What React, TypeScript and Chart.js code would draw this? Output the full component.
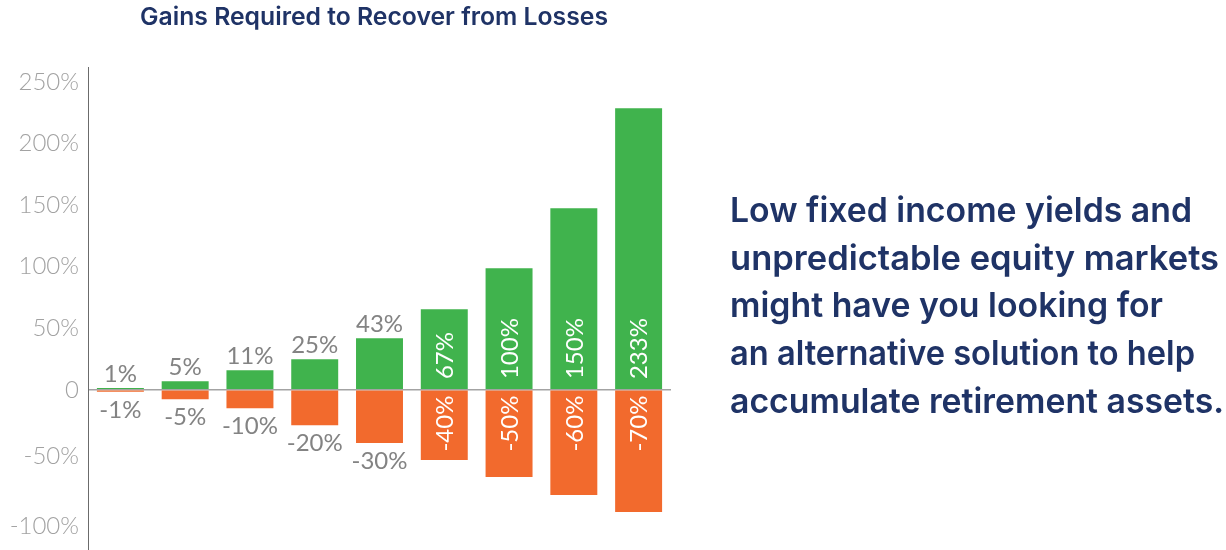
import React, { useEffect, useRef } from "react";
import { Chart, registerables } from "chart.js";

Chart.register(...registerables);

// ---- Data ----
const categories = ["1", "2", "3", "4", "5", "6", "7", "8", "9"];
// Bar heights as drawn on the picture's axis
const gainBars = [1.5, 6.9, 15.8, 24.8, 41.8, 65.3, 98.6, 147.3, 228.5];
const lossBars = [-1.5, -7.7, -15, -28.8, -43.2, -57, -70.8, -85.4, -99.2];
// Printed labels
const gainLabels = ["1%", "5%", "11%", "25%", "43%", "67%", "100%", "150%", "233%"];
const lossLabels = ["-1%", "-5%", "-10%", "-20%", "-30%", "-40%", "-50%", "-60%", "-70%"];
// Y axis ticks (the picture's axis is spaced unevenly below zero)
const tickValues = [250, 200, 150, 100, 50, 0, -54, -111];
const tickLabels = ["250%", "200%", "150%", "100%", "50%", "0", "-50%", "-100%"];

const title = "Gains Required to Recover from Losses";
const sideText = [
  "Low fixed income yields and",
  "unpredictable equity markets",
  "might have you looking for",
  "an alternative solution to help",
  "accumulate retirement assets.",
];

// layout: rendered widths of the side text lines in the reference
const sideWidths = [462, 489, 433, 465, 494];
const titleWidth = 468;

const GREEN = "#40b34d";
const ORANGE = "#f26a2d";
const NAVY = "#1f3366";

const barLabelPlugin = {
  id: "barLabels",
  afterDatasetsDraw(chart: any) {
    const ctx = chart.ctx;
    const labelSets = [gainLabels, lossLabels];
    ctx.save();
    ctx.font = "400 24px Lato";
    chart.data.datasets.forEach((ds: any, di: number) => {
      const meta = chart.getDatasetMeta(di);
      meta.data.forEach((bar: any, i: number) => {
        const text = labelSets[di][i];
        const w = ctx.measureText(text).width;
        const h = Math.abs(bar.base - bar.y);
        const positive = ds.data[i] >= 0;
        if (h > w + 12) {
          ctx.fillStyle = "#ffffff";
          ctx.save();
          if (positive) {
            ctx.translate(bar.x + 1, bar.base - 10);
            ctx.rotate(-Math.PI / 2);
            ctx.textAlign = "left";
          } else {
            ctx.translate(bar.x + 1, bar.base + 5);
            ctx.rotate(-Math.PI / 2);
            ctx.textAlign = "right";
          }
          ctx.textBaseline = "middle";
          ctx.fillText(text, 0, 0);
          ctx.restore();
        } else {
          ctx.fillStyle = "#838383";
          ctx.textAlign = "center";
          ctx.textBaseline = "alphabetic";
          if (positive) {
            ctx.fillText(text, bar.x, bar.y - 6);
          } else {
            ctx.fillText(text, bar.x, bar.y + 26);
          }
        }
      });
    });
    ctx.restore();
  },
};

export default function App() {
  const canvasRef = useRef<HTMLCanvasElement | null>(null);
  const lineRefs = useRef<(HTMLSpanElement | null)[]>([]);
  const titleRef = useRef<HTMLSpanElement | null>(null);

  useEffect(() => {
    const fit = () => {
      lineRefs.current.forEach((el, i) => {
        if (!el) return;
        el.style.transform = "none";
        const w = el.getBoundingClientRect().width;
        if (w > 0) el.style.transform = `scaleX(${sideWidths[i] / w})`;
      });
      const t = titleRef.current;
      if (t) {
        t.style.transform = "none";
        const w = t.getBoundingClientRect().width;
        if (w > 0) t.style.transform = `scaleX(${titleWidth / w})`;
      }
    };
    fit();
    if ((document as any).fonts && (document as any).fonts.ready) {
      (document as any).fonts.ready.then(fit);
    }
  }, []);

  useEffect(() => {
    if (!canvasRef.current) return;
    const chart = new Chart(canvasRef.current, {
      type: "bar",
      data: {
        labels: categories,
        datasets: [
          {
            label: "Gain required",
            data: gainBars,
            backgroundColor: GREEN,
            borderWidth: 0,
            barPercentage: 0.725,
            categoryPercentage: 1,
          },
          {
            label: "Loss",
            data: lossBars,
            backgroundColor: ORANGE,
            borderWidth: 0,
            barPercentage: 0.725,
            categoryPercentage: 1,
          },
        ],
      },
      options: {
        animation: false,
        responsive: false,
        maintainAspectRatio: false,
        devicePixelRatio: 1,
        layout: { padding: { top: 67, right: 555, bottom: 0, left: 0 } },
        plugins: {
          legend: { display: false },
          tooltip: { enabled: false },
          title: { display: false },
        },
        scales: {
          x: {
            stacked: true,
            display: false,
            offset: true,
            grid: { display: false },
          },
          y: {
            stacked: true,
            min: -130,
            max: 262,
            afterFit(scale: any) {
              scale.width = 88;
              scale.paddingTop = 0;
              scale.paddingBottom = 0;
            },
            afterBuildTicks(scale: any) {
              scale.ticks = tickValues.map((v) => ({ value: v }));
            },
            border: { display: true, color: "#6b6b6b", width: 1 },
            grid: {
              drawTicks: false,
              lineWidth: 1.5,
              color: (c: any) =>
                c.tick && c.tick.value === 0 ? "#a3a3a3" : "rgba(0,0,0,0)",
            },
            ticks: {
              padding: 9,
              color: "#a2a2a2",
              font: { family: "Lato", size: 24, weight: "300" as any },
              callback: (_v: any, idx: number) => tickLabels[idx],
            },
          },
        },
      },
      plugins: [barLabelPlugin],
    });
    return () => chart.destroy();
  }, []);

  return (
    <div
      style={{
        position: "absolute",
        left: 0,
        top: 0,
        width: 1226,
        height: 550,
        background: "#ffffff",
        overflow: "hidden",
      }}
    >
      <canvas
        ref={canvasRef}
        width={1226}
        height={550}
        style={{ position: "absolute", left: 0, top: 0, width: 1226, height: 550 }}
      />
      <div
        style={{
          position: "absolute",
          left: 140,
          top: 4,
          fontFamily: "Inter, sans-serif",
          fontWeight: 600,
          fontSize: 24.5,
          lineHeight: "24.5px",
          color: NAVY,
          whiteSpace: "nowrap",
        }}
      >
        <span
          ref={titleRef}
          style={{ display: "inline-block", transformOrigin: "0 50%" }}
        >
          {title}
        </span>
      </div>
      <div
        style={{
          position: "absolute",
          left: 730,
          top: 186,
          fontFamily: "Inter, sans-serif",
          fontWeight: 600,
          fontSize: 34.5,
          lineHeight: "47.7px",
          color: NAVY,
          whiteSpace: "nowrap",
        }}
      >
        {sideText.map((line, i) => (
          <div key={i} style={{ height: 47.7 }}>
            <span
              ref={(el) => {
                lineRefs.current[i] = el;
              }}
              style={{ display: "inline-block", transformOrigin: "0 50%" }}
            >
              {line}
            </span>
          </div>
        ))}
      </div>
    </div>
  );
}
